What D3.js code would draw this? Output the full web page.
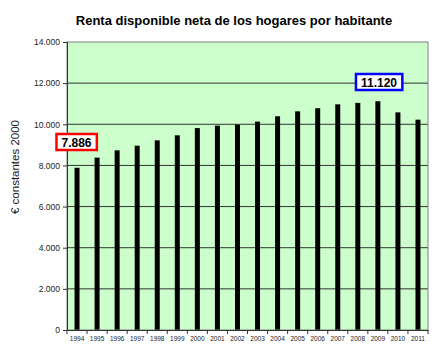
<!DOCTYPE html>
<html><head><meta charset="utf-8">
<script src="https://cdn.jsdelivr.net/npm/d3@7"></script>
<style>body{margin:0;background:#fff;}svg{display:block;font-family:"Liberation Sans",Arial,sans-serif;}</style>
</head><body>
<script>
const years = ["1994","1995","1996","1997","1998","1999","2000","2001","2002","2003","2004","2005","2006","2007","2008","2009","2010","2011"];
const values = [7886,8380,8735,8960,9220,9465,9815,9935,9985,10130,10390,10630,10780,10970,11040,11120,10580,10225];
const yTicks = [0,2000,4000,6000,8000,10000,12000,14000];
const title = "Renta disponible neta de los hogares por habitante";
const yTitle = "€ constantes 2000";
const callouts = [{year:"1994", text:"7.886", color:"#ff0000"},{year:"2009", text:"11.120", color:"#0000ff"}];

const W=442,H=355;
const m={left:67,right:14,top:42,bottom:25};
const svg=d3.select("body").append("svg").attr("width",W).attr("height",H);
const x=d3.scaleBand().domain(years).range([m.left,W-m.right]);
const y=d3.scaleLinear().domain([0,14000]).range([H-m.bottom,m.top]);
const fmt=v=>d3.format(",")(v).replace(/,/g,".");

svg.append("rect").attr("x",m.left).attr("y",m.top).attr("width",W-m.left-m.right).attr("height",H-m.top-m.bottom).attr("fill","#ccffcc");
// grid
svg.append("g").selectAll("line").data(yTicks.filter(d=>d>0&&d<14000)).join("line")
  .attr("x1",m.left).attr("x2",W-m.right).attr("y1",d=>y(d)).attr("y2",d=>y(d)).attr("stroke","#333").attr("stroke-width",1);
// bars
const bw=5;
svg.append("g").selectAll("rect").data(years).join("rect")
  .attr("x",(d)=>x(d)+x.bandwidth()/2-bw/2).attr("width",bw)
  .attr("y",(d,i)=>y(values[i])).attr("height",(d,i)=>y(0)-y(values[i])).attr("fill","#000");
// border
svg.append("rect").attr("x",m.left).attr("y",m.top).attr("width",W-m.left-m.right).attr("height",H-m.top-m.bottom).attr("fill","none").attr("stroke","#808080").attr("stroke-width",1);
// y axis
const ya=svg.append("g").attr("transform",`translate(${m.left},0)`)
  .call(d3.axisLeft(y).tickValues(yTicks).tickFormat(fmt).tickSize(4).tickPadding(3));
ya.select(".domain").attr("stroke","#333");
ya.selectAll("line").attr("stroke","#333");
ya.selectAll("text").attr("font-size","8.5px").attr("fill","#222").attr("font-family","Liberation Sans, Arial, sans-serif");
// x axis
const xa=svg.append("g").attr("transform",`translate(0,${H-m.bottom})`)
  .call(d3.axisBottom(x).tickSize(0).tickPadding(6));
xa.select(".domain").attr("stroke","#333");
xa.selectAll("text").attr("font-size","6.5px").attr("fill","#222").attr("font-family","Liberation Sans, Arial, sans-serif");
// boundary ticks
const bounds=years.map(d=>x(d)).concat([x(years[years.length-1])+x.bandwidth()]);
svg.append("g").selectAll("line").data(bounds).join("line")
  .attr("x1",d=>d).attr("x2",d=>d).attr("y1",H-m.bottom).attr("y2",H-m.bottom+4).attr("stroke","#333");
// titles
svg.append("text").attr("x",234).attr("y",25).attr("text-anchor","middle").attr("font-size","13px").attr("font-weight","bold").text(title);
svg.append("text").attr("transform","translate(19,167) rotate(-90)").attr("text-anchor","middle").attr("font-size","11.5px").attr("fill","#222").text(yTitle);
// callouts
callouts.forEach(c=>{
  const cx = c.year==="1994" ? 76.5 : 379;
  const cy = c.year==="1994" ? 142 : 82;
  const g=svg.append("g");
  const r=g.append("rect");
  const t=g.append("text").attr("x",cx).attr("y",cy+4.5).attr("text-anchor","middle").attr("font-size","12px").attr("font-weight","bold").text(c.text);
  const bb=t.node().getBBox();
  r.attr("x",bb.x-5).attr("y",cy-8).attr("width",bb.width+10).attr("height",16).attr("fill","#fff").attr("stroke",c.color).attr("stroke-width",2.5);
});
</script>
</body></html>
